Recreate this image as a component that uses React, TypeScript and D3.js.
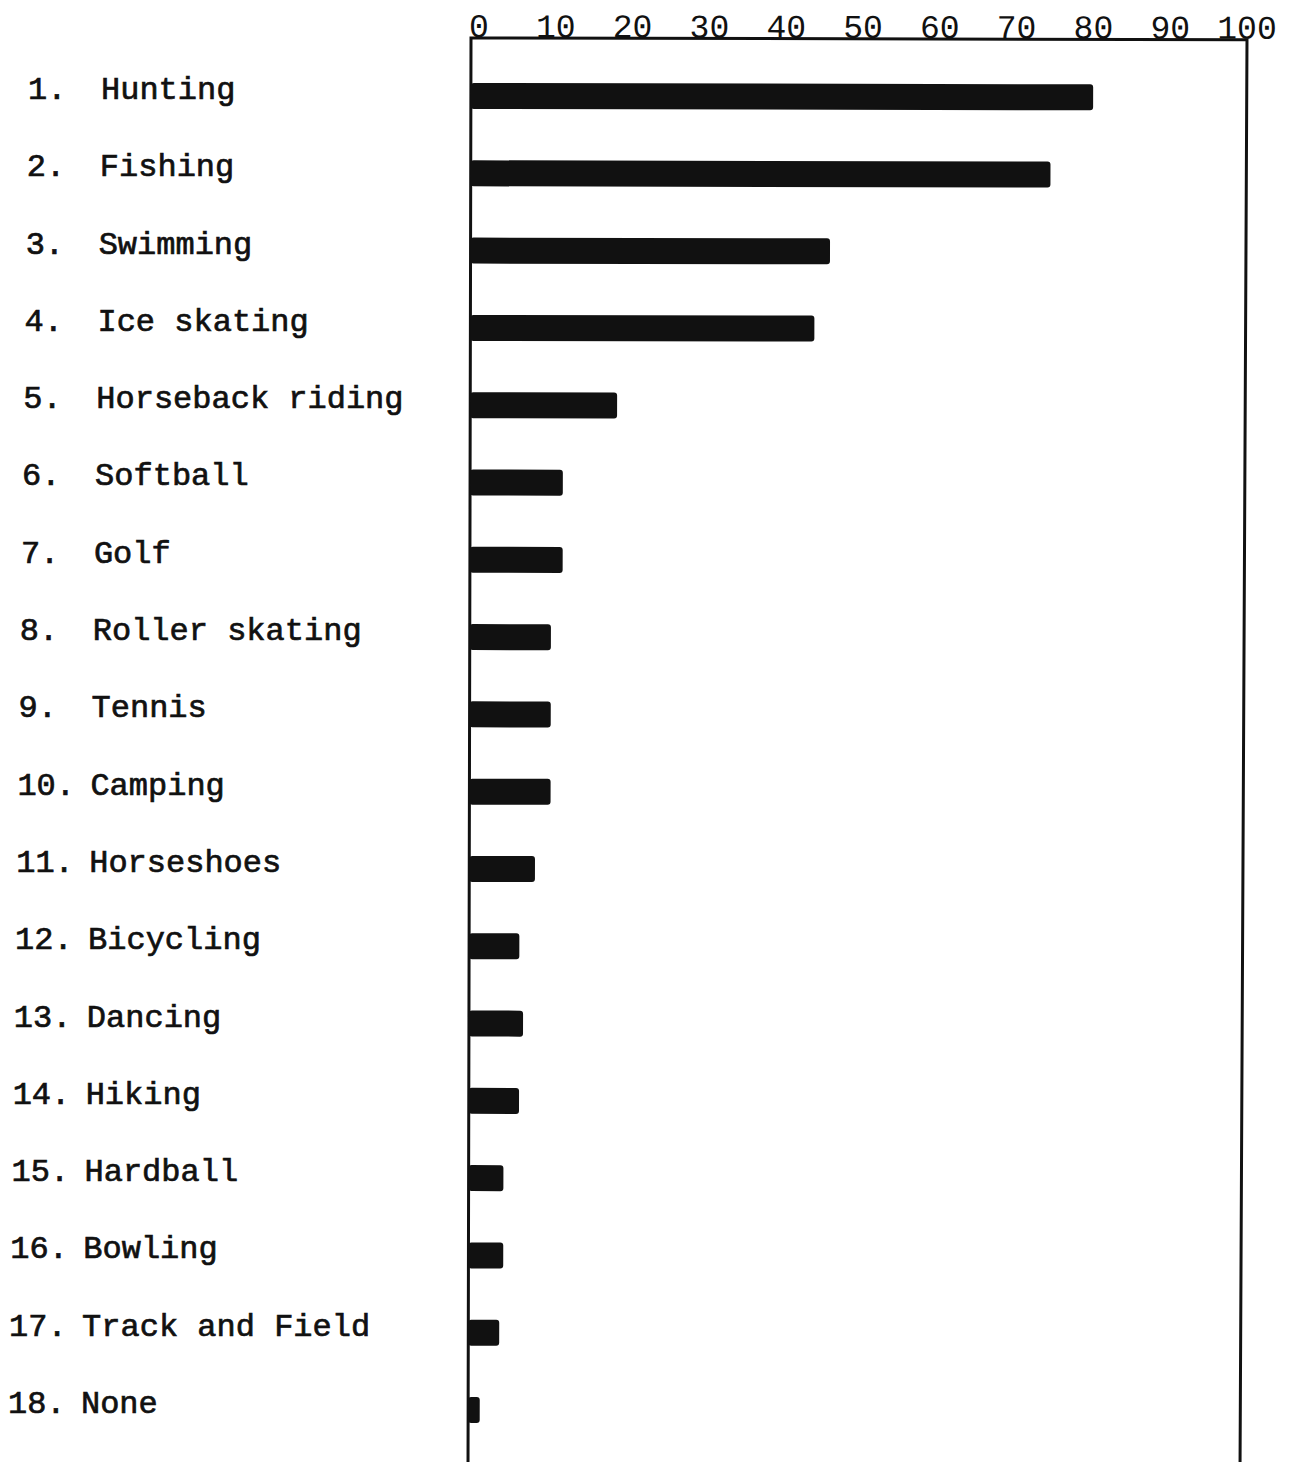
import React from 'react';
import * as d3 from 'd3';

const activities = [
  'Hunting',
  'Fishing',
  'Swimming',
  'Ice skating',
  'Horseback riding',
  'Softball',
  'Golf',
  'Roller skating',
  'Tennis',
  'Camping',
  'Horseshoes',
  'Bicycling',
  'Dancing',
  'Hiking',
  'Hardball',
  'Bowling',
  'Track and Field',
  'None',
];
const percents = [80.5, 75, 46.5, 44.5, 19, 12, 12, 10.5, 10.5, 10.5, 8.5, 6.5, 7, 6.5, 4.5, 4.5, 4, 1.5];
const tickValues = [0, 10, 20, 30, 40, 50, 60, 70, 80, 90, 100];

const width = 1290;
const height = 1462;
const font = '"Liberation Mono", "Courier New", monospace';
const ink = '#111';

export default function App() {
  const x = d3.scaleLinear().domain([0, 100]).range([471, 1244]);
  const y = d3.scalePoint().domain(activities).range([96, 1410]);
  const barH = 26;
  const frameTop = 38;

  // the typed page is a bit skewed: labels drift left going down
  const labelX = (i) => 28 - i * 1.18;

  return (
    <svg
      width={width}
      height={height}
      style={{ position: 'absolute', left: 0, top: 0, background: '#fff' }}
    >
      <g transform={`rotate(0.12 ${x(0)} ${frameTop})`}>
        {/* tick labels sitting on the top rule */}
        {tickValues.map((t) => (
          <text
            key={t}
            x={x(t) + 8 - t * 0.05}
            y={frameTop - 1}
            textAnchor="middle"
            fontFamily={font}
            fontSize={33}
            fill={ink}
          >
            {t}
          </text>
        ))}

        {/* frame: top, left, right (right edge leans in a little) */}
        <path
          d={`M${x(0)},${height + 10}V${frameTop}H${x(100) + 3}L${x(100) - 1},${height + 10}`}
          fill="none"
          stroke={ink}
          strokeWidth={3}
        />

        {activities.map((a, i) => (
          <rect
            key={a}
            x={x(0)}
            y={y(a) - barH / 2}
            width={x(percents[i]) - x(0)}
            height={barH}
            rx={3}
            fill={ink}
          />
        ))}
      </g>

      {activities.map((a, i) => (
        <g
          key={a}
          fontFamily={font}
          fontSize={32}
          fill={ink}
          stroke={ink}
          strokeWidth={0.7}
        >
          <text x={labelX(i)} y={y(a) + 3}>
            {`${i + 1}.`}
          </text>
          <text x={labelX(i) + 73} y={y(a) + 3}>
            {a}
          </text>
        </g>
      ))}
    </svg>
  );
}
